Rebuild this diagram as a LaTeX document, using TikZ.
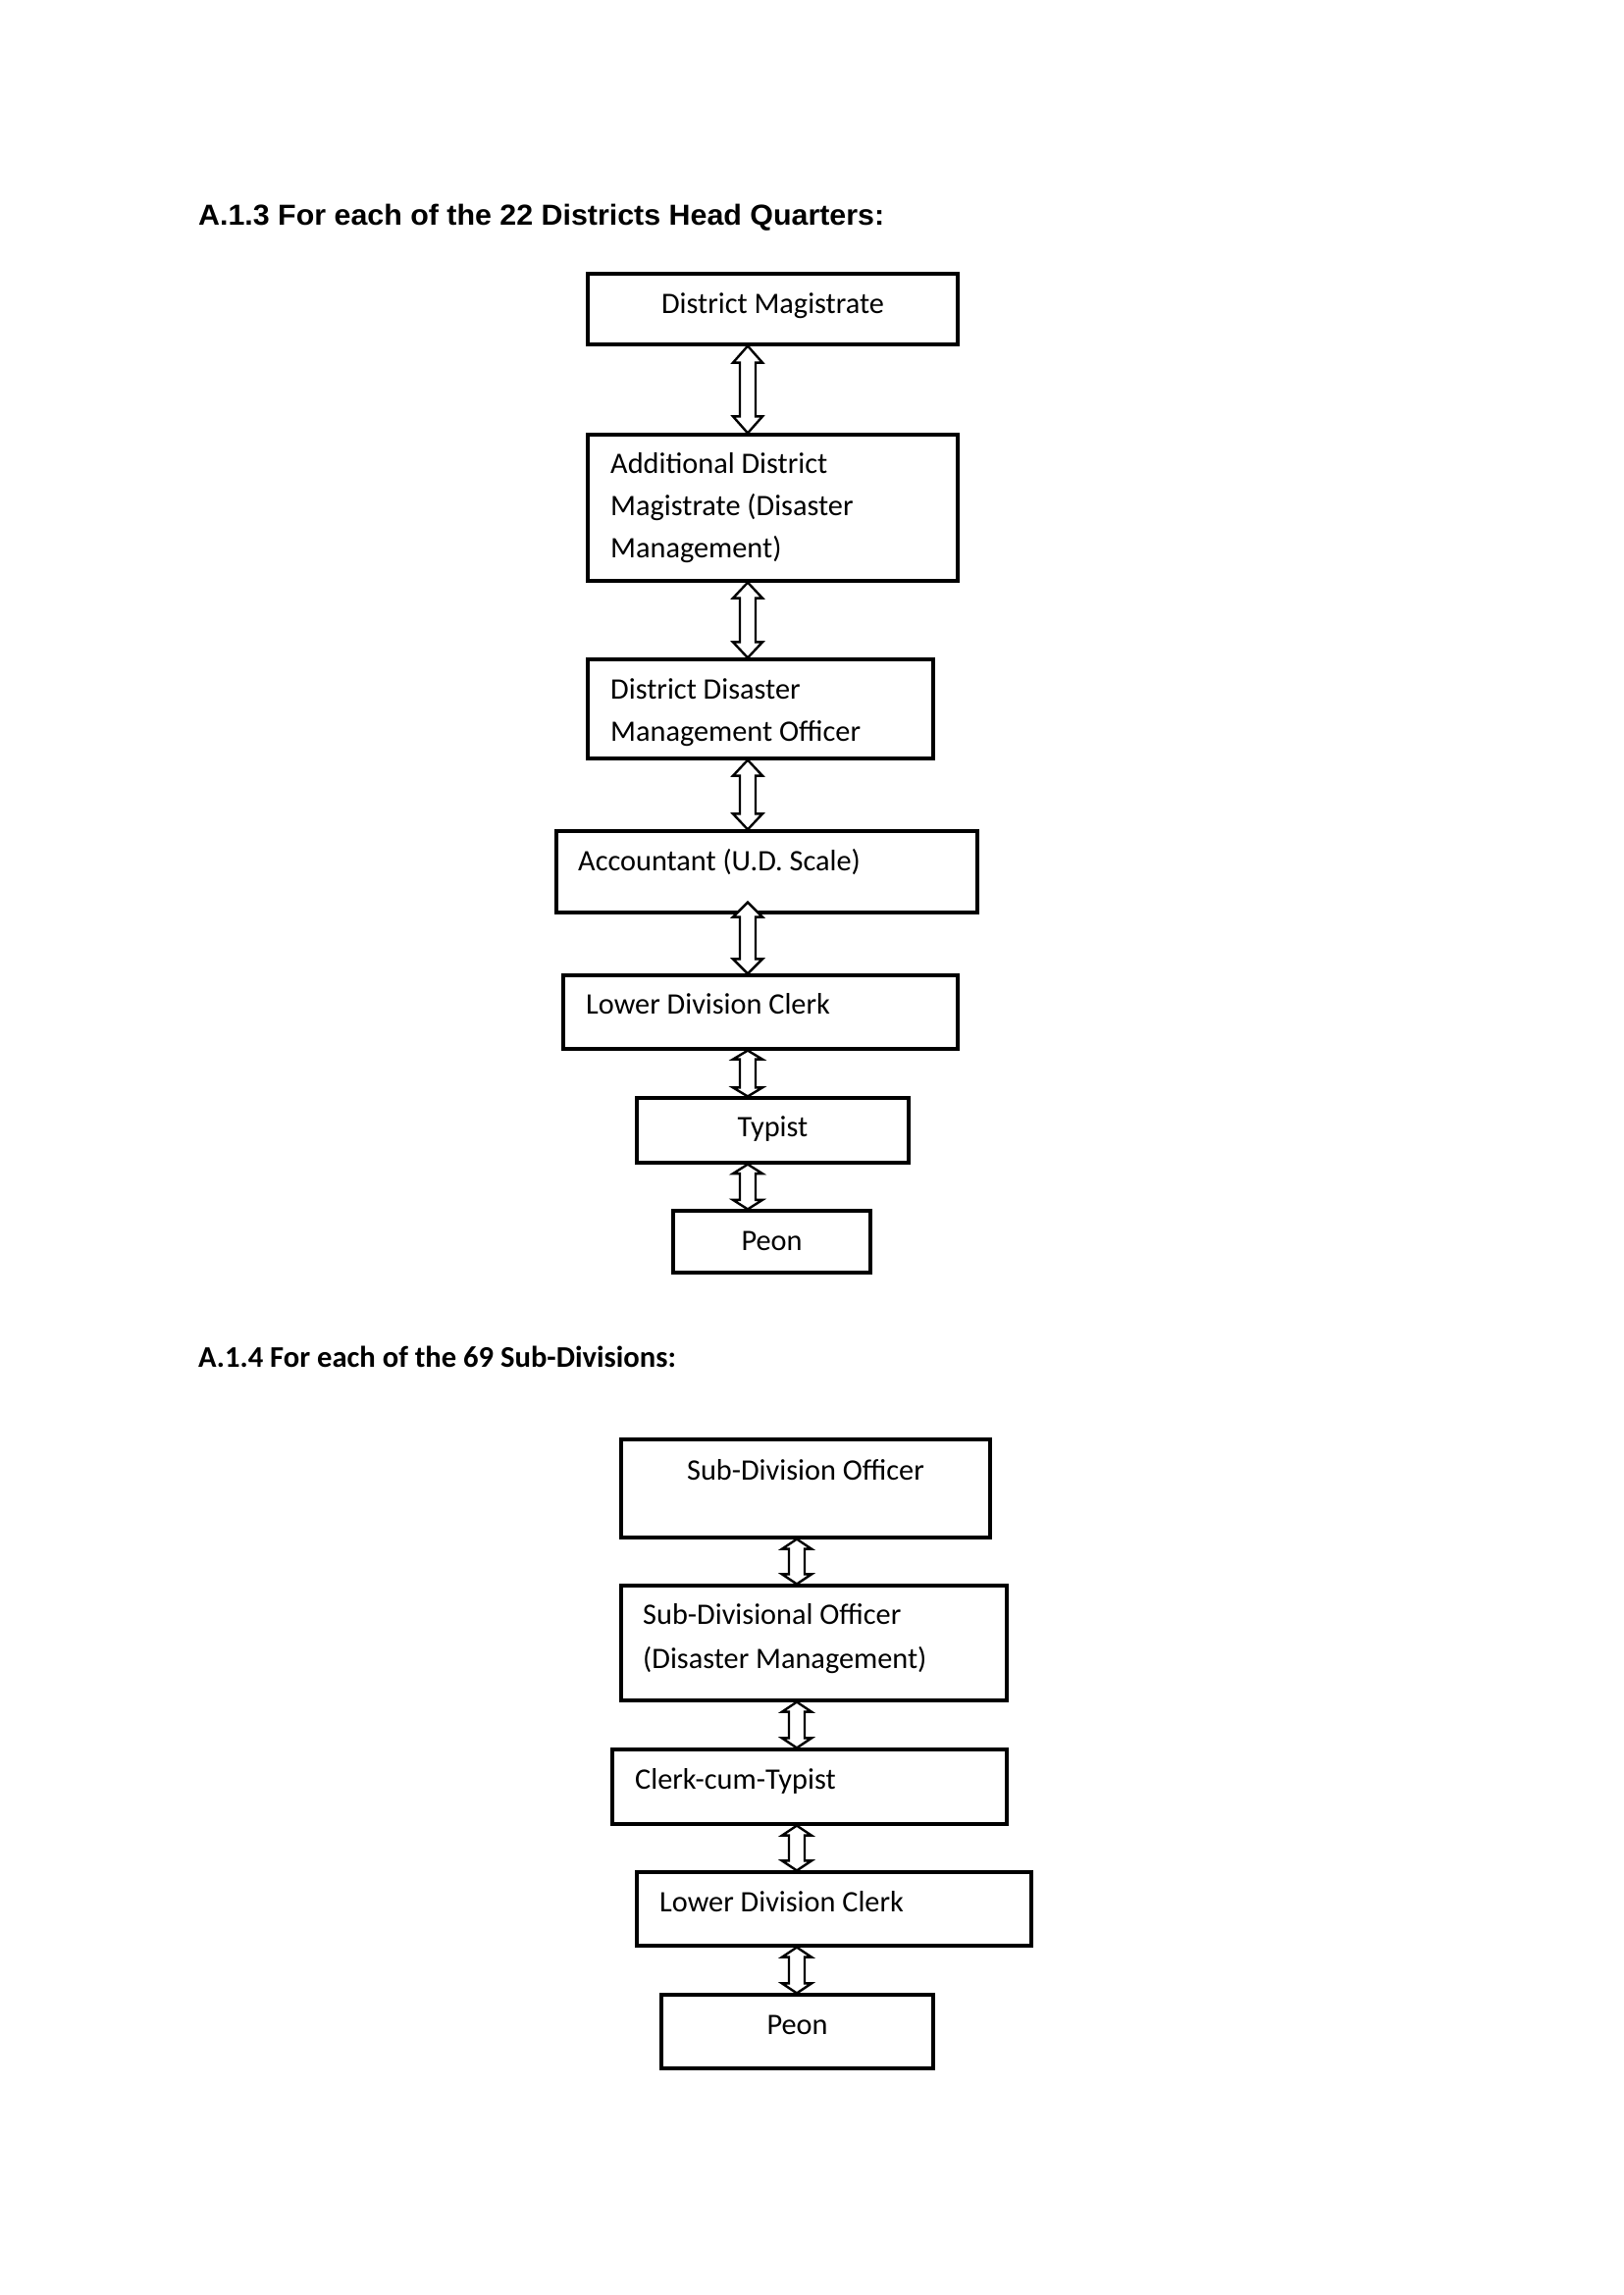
\documentclass[tikz,border=0pt]{standalone}
\usepackage{fontspec}
\usepackage{graphicx}
\setmainfont{Carlito}
\newfontfamily\arialfont{Liberation Sans}
\usetikzlibrary{calc}
\newcommand\bodyfont{\fontsize{30.3}{43}\selectfont}
% #1 upper node, #2 lower node, #3 x of arrow axis, #4 head length, #5 overshoot into upper node
\newcommand\udarrow[5]{%
  \draw[udarr] let \p1=(#1.south), \p2=(#2.north) in
    (#3pt,{\y1+#5pt}) -- ({#3pt+15pt},{\y1+#5pt-#4pt}) -- ({#3pt+8pt},{\y1+#5pt-#4pt})
    -- ({#3pt+8pt},{\y2+#4pt}) -- ({#3pt+15pt},{\y2+#4pt}) -- (#3pt,\y2)
    -- ({#3pt-15pt},{\y2+#4pt}) -- ({#3pt-8pt},{\y2+#4pt})
    -- ({#3pt-8pt},{\y1+#5pt-#4pt}) -- ({#3pt-15pt},{\y1+#5pt-#4pt}) -- cycle;}
\tikzset{
  box/.style={draw, line width=3.2pt, inner sep=0pt},
  udarr/.style={draw, fill=white, line width=2.4pt, line join=miter},
  txt/.style={inner sep=0pt, font=\bodyfont},
  heading/.style={inner sep=0pt, anchor=base west}
}
\begin{document}
\begin{tikzpicture}[x=1pt,y=-1pt]
\fill[white] (0,0) rectangle (1654,2339);
\useasboundingbox (0,0) rectangle (1654,2339);

% ---------- A.1.3 ----------
\node[heading] (title1) at (202,229) {\arialfont\bfseries\fontsize{29.5}{34}\selectfont\scalebox{1.03}[1]{A.1.3 For each of the 22 Districts Head Quarters:}};

\node[box, minimum width=377pt, minimum height=72pt]  (dm)   at (787.5,315)   {};
\node[box, minimum width=377pt, minimum height=149pt] (adm)  at (787.5,517.5) {};
\node[box, minimum width=352pt, minimum height=101pt] (ddmo) at (775,722.5)   {};
\node[box, minimum width=429pt, minimum height=83pt]  (acc)  at (781.5,888.5) {};
\node[box, minimum width=402pt, minimum height=75pt]  (ldc)  at (775,1031.5)  {};
\node[box, minimum width=277pt, minimum height=66pt]  (typ)  at (787.5,1152)  {};
\node[box, minimum width=201pt, minimum height=63pt]  (peon) at (786.5,1265.5) {};

\node[txt, anchor=base] (t-dm) at (787.5,319) {District Magistrate};
\node[txt, anchor=base west] (t-adm1) at (622,482) {Additional District};
\node[txt, anchor=base west] (t-adm2) at (622,525) {Magistrate (Disaster};
\node[txt, anchor=base west] (t-adm3) at (622,568) {Management)};
\node[txt, anchor=base west] (t-ddmo1) at (622,712) {District Disaster};
\node[txt, anchor=base west] (t-ddmo2) at (622,755) {Management Officer};
\node[txt, anchor=base west] (t-acc) at (589,887) {Accountant (U.D. Scale)};
\node[txt, anchor=base west] (t-ldc) at (597,1033) {Lower Division Clerk};
\node[txt, anchor=base] (t-typ) at (787.5,1158) {Typist};
\node[txt, anchor=base] (t-peon) at (786.5,1274) {Peon};

\udarrow{dm}{adm}{762}{17}{0}
\udarrow{adm}{ddmo}{762}{16}{0}
\udarrow{ddmo}{acc}{762}{16}{0}
\udarrow{acc}{ldc}{762}{15}{12}
\udarrow{ldc}{typ}{762}{9}{0}
\udarrow{typ}{peon}{762}{9.5}{0}

% ---------- A.1.4 ----------
\node[heading] (title2) at (202,1393) {\bfseries\fontsize{30.6}{36}\selectfont A.1.4 For each of the 69 Sub-Divisions:};

\node[box, minimum width=376pt, minimum height=100pt] (sdo)   at (821,1517)    {};
\node[box, minimum width=393pt, minimum height=117pt] (sdodm) at (829.5,1674.5) {};
\node[box, minimum width=402pt, minimum height=76pt]  (cct)   at (825,1821)    {};
\node[box, minimum width=402pt, minimum height=75pt]  (ldcb)  at (850,1945.5)  {};
\node[box, minimum width=277pt, minimum height=75pt]  (peonb) at (812.5,2070.5) {};

\node[txt, anchor=base] (t-sdo) at (821,1508) {Sub-Division Officer};
\node[txt, anchor=base west] (t-sdodm1) at (655,1655) {Sub-Divisional Officer};
\node[txt, anchor=base west] (t-sdodm2) at (655,1700) {(Disaster Management)};
\node[txt, anchor=base west] (t-cct) at (647,1823) {Clerk-cum-Typist};
\node[txt, anchor=base west] (t-ldcb) at (672,1948) {Lower Division Clerk};
\node[txt, anchor=base] (t-peonb) at (812.5,2073) {Peon};

\udarrow{sdo}{sdodm}{812}{10}{0}
\udarrow{sdodm}{cct}{812}{10}{0}
\udarrow{cct}{ldcb}{812}{10}{0}
\udarrow{ldcb}{peonb}{812}{10}{0}
\end{tikzpicture}
\end{document}
